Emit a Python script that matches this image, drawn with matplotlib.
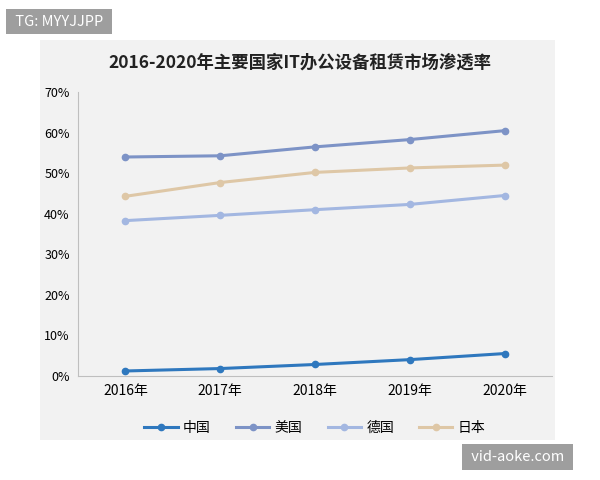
import matplotlib
matplotlib.use('Agg')
import matplotlib.pyplot as plt
from matplotlib.patches import Rectangle

plt.rcParams['font.family'] = ['Noto Sans CJK SC', 'DejaVu Sans']

years = ['2016年', '2017年', '2018年', '2019年', '2020年']
china = [1.2, 1.8, 2.8, 4.0, 5.5]
usa = [54.0, 54.3, 56.5, 58.3, 60.5]
germany = [38.3, 39.6, 41.0, 42.3, 44.5]
japan = [44.3, 47.7, 50.2, 51.3, 52.0]

series = [('中国', china, '#2F78BE'), ('美国', usa, '#7D93C6'),
          ('德国', germany, '#A3B7E1'), ('日本', japan, '#DEC7A6')]

fig = plt.figure(figsize=(6, 4.8), dpi=100)
# gray panel behind everything
fig.patches.append(Rectangle((0.067, 0.083), 0.858, 0.834, transform=fig.transFigure,
                             facecolor='#F2F2F2', edgecolor='none', zorder=-10))
ax = fig.add_axes([0.13, 0.217, 0.79, 0.591])
ax.set_facecolor('none')

x = range(len(years))
for name, vals, col in series:
    ax.plot(x, vals, color=col, linewidth=2.2, marker='o', markersize=4.5, label=name)

ax.set_xlim(-0.5, 4.5)
ax.set_ylim(0, 70)
ax.set_yticks(range(0, 71, 10))
ax.set_yticklabels([f'{v}%' for v in range(0, 71, 10)], fontsize=9)
ax.set_xticks(list(x))
ax.set_xticklabels(years, fontsize=10)
ax.tick_params(length=0, pad=6)
for s in ['top', 'right']:
    ax.spines[s].set_visible(False)
for s in ['left', 'bottom']:
    ax.spines[s].set_color('#BFBFBF')

fig.text(0.5, 0.86, '2016-2020年主要国家IT办公设备租赁市场渗透率', ha='center',
         fontsize=12.5, fontweight='bold', color='#222222')
ax.legend(loc='upper center', bbox_to_anchor=(0.5, -0.115), ncol=4, frameon=False,
          fontsize=10, handlelength=2.4, handletextpad=0.4, columnspacing=1.8)

fig.text(0.02, 0.955, ' TG: MYYJJPP ', fontsize=10.5, color='white', va='center',
         bbox=dict(facecolor='#9E9E9E', edgecolor='none', pad=4))
fig.text(0.78, 0.048, ' vid-aoke.com ', fontsize=10.5, color='white', va='center',
         bbox=dict(facecolor='#9E9E9E', edgecolor='none', pad=4))

fig.savefig('out.png', dpi=100)
